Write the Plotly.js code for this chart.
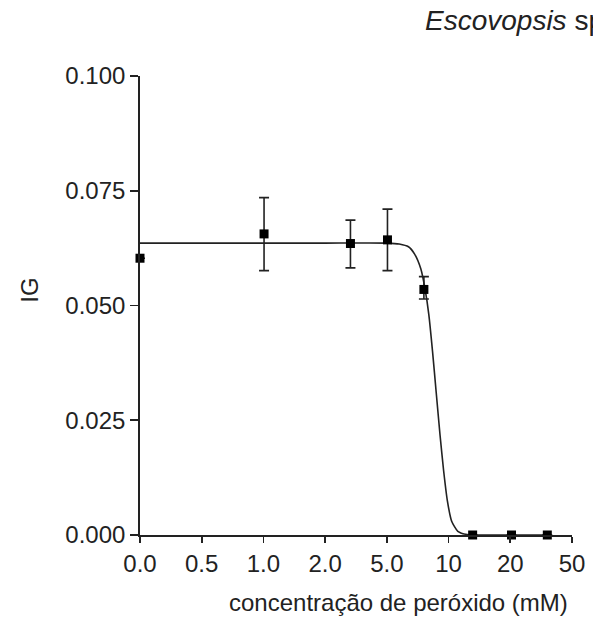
<!DOCTYPE html>
<html>
<head>
<meta charset="utf-8">
<script src="https://cdn.plot.ly/plotly-3.0.1.min.js"></script>
<style>html,body{margin:0;padding:0;background:#fff;}#chart{width:593px;height:627px;}</style>
</head>
<body>
<div id="chart"></div>
<script>
// x positions on the chart's evenly spaced concentration scale (tick index units)
var tickPositions = [0, 1, 2, 3, 4, 5, 6, 7];
var tickLabels = ["0.0", "0.5", "1.0", "2.0", "5.0", "10", "20", "50"];

// measured points
var pointX = [0, 2.01, 3.41, 4.01, 4.60, 5.39, 6.02, 6.60];
var pointIG = [0.0603, 0.0656, 0.0635, 0.0643, 0.0535, 0, 0, 0];
var errPlus = [0, 0.0079, 0.0051, 0.0067, 0.0028, 0, 0, 0];
var errMinus = [0, 0.0080, 0.0053, 0.0067, 0.0021, 0, 0, 0];

// fitted curve
var curveX = [0, 1, 2, 3, 4.0, 4.2, 4.35, 4.45, 4.55, 4.62, 4.68, 4.74, 4.80, 4.86, 4.92, 4.98, 5.05, 5.15, 5.3, 5.5, 6, 6.6];
var curveIG = [0.0636, 0.0636, 0.0636, 0.0636, 0.0636, 0.0634, 0.0628, 0.0612, 0.0580, 0.0535, 0.0480, 0.0400, 0.0310, 0.0220, 0.0140, 0.0075, 0.0030, 0.0008, 0.0001, 0, 0, 0];

var ink = "#222222";
var fontFam = "Liberation Sans, Arial, sans-serif";
var fs = 24;

var traces = [
  {
    x: curveX, y: curveIG, type: "scatter", mode: "lines",
    line: {color: ink, width: 1.6, shape: "spline", smoothing: 0.6},
    hoverinfo: "skip", cliponaxis: false
  },
  {
    x: pointX, y: pointIG, type: "scatter", mode: "markers",
    marker: {symbol: "square", size: 9, color: "#000"},
    error_y: {type: "data", symmetric: false, array: errPlus, arrayminus: errMinus,
      color: ink, thickness: 1.6, width: 5},
    cliponaxis: false
  }
];

var layout = {
  width: 593, height: 627,
  margin: {l: 140, r: 21, t: 76, b: 92},
  paper_bgcolor: "#fff", plot_bgcolor: "#fff",
  showlegend: false,
  font: {family: fontFam, size: fs, color: ink},
  xaxis: {
    range: [0, 7], tickmode: "array", tickvals: tickPositions, ticktext: tickLabels,
    showgrid: false, zeroline: false, showline: true, linecolor: ink, linewidth: 1.8,
    ticks: "outside", ticklen: 6, tickwidth: 1.8, tickcolor: ink,
    tickfont: {family: fontFam, size: fs, color: ink}, fixedrange: true
  },
  yaxis: {
    range: [0, 0.1], tickmode: "array", tickvals: [0, 0.025, 0.05, 0.075, 0.1],
    ticktext: ["0.000", "0.025", "0.050", "0.075", "0.100"],
    showgrid: false, zeroline: false, showline: true, linecolor: ink, linewidth: 1.8,
    ticks: "outside", ticklen: 8, tickwidth: 1.8, tickcolor: ink,
    tickfont: {family: fontFam, size: fs, color: ink}, fixedrange: true
  },
  annotations: [
    {text: "concentração de peróxido (mM)", xref: "paper", yref: "paper",
     x: 0.598, y: -0.148, xanchor: "center", yanchor: "middle", showarrow: false,
     font: {family: fontFam, size: fs, color: ink}},
    {text: "IG", xref: "paper", yref: "paper", x: -0.255, y: 0.534,
     xanchor: "center", yanchor: "middle", textangle: -90, showarrow: false,
     font: {family: fontFam, size: fs, color: ink}},
    {text: "<i>Escovopsis</i> sp.", xref: "paper", yref: "paper", x: 0.654, y: 1.122,
     xanchor: "left", yanchor: "middle", showarrow: false,
     font: {family: fontFam, size: 28, color: ink}}
  ]
};

Plotly.newPlot("chart", traces, layout, {displayModeBar: false, staticPlot: true});
</script>
</body>
</html>
